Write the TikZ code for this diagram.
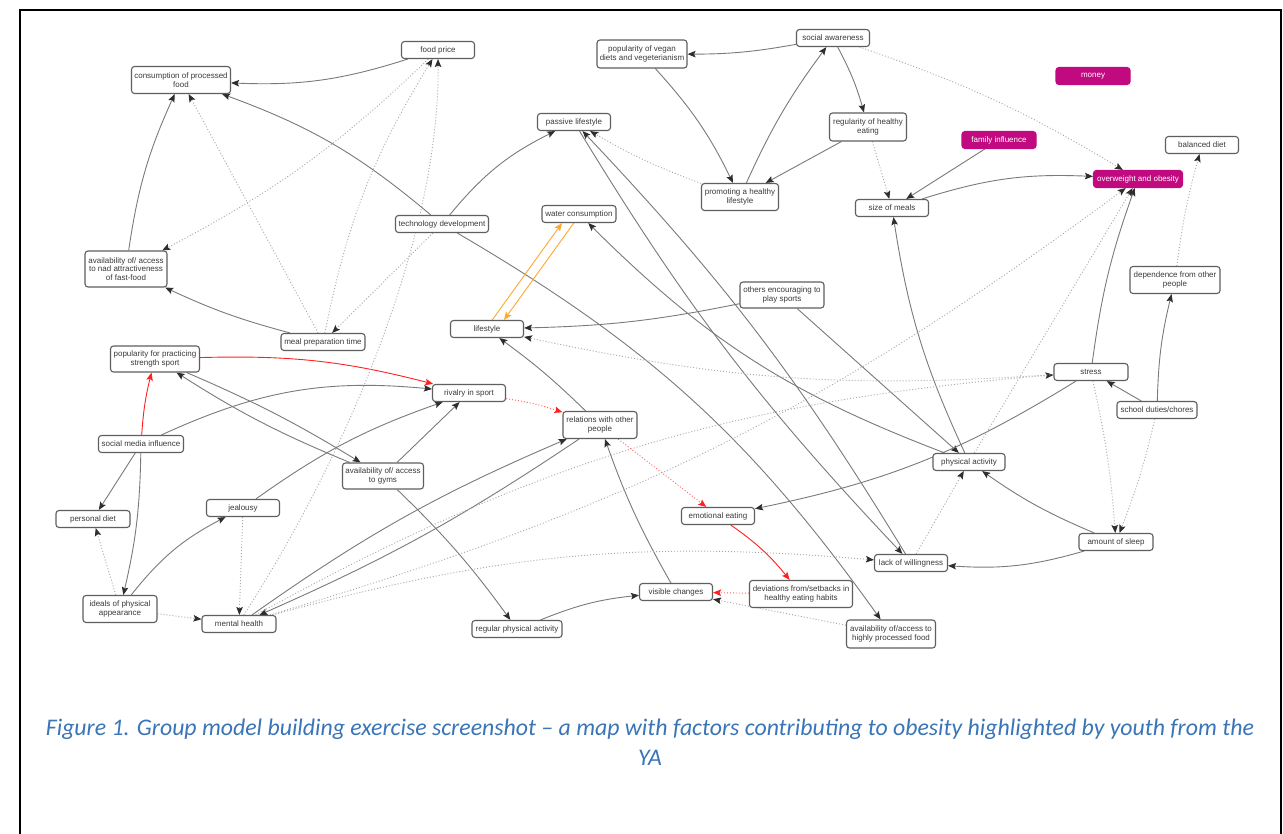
\documentclass[tikz,border=0pt]{standalone}
\usepackage{fontspec}
\setmainfont{Liberation Sans}
\newfontfamily\capfont{Carlito}
\usetikzlibrary{arrows.meta}
\definecolor{boxline}{HTML}{5F5F5F}
\definecolor{boxtext}{HTML}{3A3A3A}
\definecolor{hotpink}{HTML}{C20A80}
\definecolor{linkgray}{HTML}{7A7A7A}
\definecolor{dotgray}{HTML}{A8A8A8}
\definecolor{tipgray}{HTML}{2E2E2E}
\definecolor{linkred}{HTML}{FF2020}
\definecolor{linkorange}{HTML}{FFA82E}
\definecolor{capblue}{HTML}{3A75B8}
\pgfdeclarelayer{back}
\pgfdeclarelayer{edges}
\pgfsetlayers{back,edges,main}
\newcommand{\nodefont}{\fontsize{8}{8.7}\selectfont}
\tikzset{
  box/.style={draw=boxline, line width=1.1pt, rounded corners=3pt, fill=white,
    text=boxtext, font=\nodefont, align=center, inner sep=0pt,
    minimum width=73pt, minimum height=17pt},
  hot/.style={box, draw=hotpink, fill=hotpink, text=white},
  solidlink/.style={draw=linkgray, line width=0.9pt,
    -{Stealth[length=8pt,width=6.5pt,inset=1.5pt,color=tipgray]}},
  dotlink/.style={solidlink, draw=dotgray, dash pattern=on 1pt off 2pt},
  redlink/.style={draw=linkred, line width=0.9pt,
    -{Stealth[length=8pt,width=6.5pt,inset=1.5pt,color=linkred]}},
  reddot/.style={redlink, draw=linkred!70, dash pattern=on 1pt off 2pt},
  orangelink/.style={draw=linkorange, line width=0.9pt,
    -{Stealth[length=8pt,width=6.5pt,inset=1.5pt,color=linkorange]}},
}
\begin{document}
\begin{tikzpicture}[x=1pt,y=-1pt]
\useasboundingbox (0,0) rectangle (1283,834);
\begin{pgfonlayer}{back}
  \fill[white] (0,0) rectangle (1283,834);
\end{pgfonlayer}
% page frame
\draw[line width=1.3pt] (20,834) -- (20,10) -- (1281,10) -- (1281,834);

% ---------- factors ----------
\node[box, minimum width=99pt, minimum height=27pt] (cpf) at (181,80) {consumption of processed\\food};
\node[box] (fp) at (438,50) {food price};
\node[box, minimum width=90pt, minimum height=28pt] (vegan) at (642,54) {popularity of vegan\\diets and vegeterianism};
\node[box] (sa) at (833,38) {social awareness};
\node[hot, minimum width=74pt] (money) at (1093,76) {money};
\node[box] (pl) at (574,122) {passive lifestyle};
\node[box, minimum width=77pt, minimum height=28pt] (reg) at (868,127) {regularity of healthy\\eating};
\node[hot, minimum width=74pt] (fi) at (999,140) {family influence};
\node[box] (bd) at (1202,145) {balanced diet};
\node[box, minimum width=77pt, minimum height=27pt] (phl) at (740,197) {promoting a healthy\\lifestyle};
\node[box] (som) at (892,208) {size of meals};
\node[hot, minimum width=89pt] (ow) at (1138,179) {overweight and obesity};
\node[box, minimum width=93pt] (td) at (442,224) {technology development};
\node[box, minimum width=74pt] (wc) at (579,214) {water consumption};
\node[box, minimum width=82pt, minimum height=36pt] (ff) at (126,269) {availability of/ access\\to nad attractiveness\\of fast-food};
\node[box, minimum width=90pt, minimum height=27pt] (dep) at (1175,280) {dependence from other\\people};
\node[box, minimum width=84pt, minimum height=26pt] (oe) at (782,295) {others encouraging to\\play sports};
\node[box] (life) at (487,329) {lifestyle};
\node[box, minimum width=84pt] (mpt) at (323,342) {meal preparation time};
\node[box, minimum width=89pt, minimum height=26pt] (pss) at (155,359) {popularity for practicing\\strength sport};
\node[box, minimum width=74pt] (stress) at (1091,372) {stress};
\node[box] (rs) at (469,393) {rivalry in sport};
\node[box, minimum width=74pt, minimum height=27pt] (rel) at (600,425) {relations with other\\people};
\node[box, minimum width=80pt] (sdc) at (1157,410) {school duties/chores};
\node[box, minimum width=85pt] (smi) at (141,444) {social media influence};
\node[box, minimum width=81pt, minimum height=26pt] (gyms) at (383,476) {availability of/ access\\to gyms};
\node[box, minimum width=72pt] (pa) at (969,462) {physical activity};
\node[box] (jeal) at (243,508) {jealousy};
\node[box, minimum width=74pt] (pd) at (93,519) {personal diet};
\node[box] (ee) at (718,516) {emotional eating};
\node[box, minimum width=74pt] (sleep) at (1116,542) {amount of sleep};
\node[box] (lw) at (911,563) {lack of willingness};
\node[box, minimum width=74pt, minimum height=27pt] (ideals) at (120,609) {ideals of physical\\appearance};
\node[box] (vc) at (676,592) {visible changes};
\node[box, minimum width=103pt, minimum height=27pt] (dev) at (801,594) {deviations from/setbacks in\\healthy eating habits};
\node[box, minimum width=74pt] (mh) at (239,624) {mental health};
\node[box, minimum width=90pt] (rpa) at (517,629) {regular physical activity};
\node[box, minimum width=89pt, minimum height=28pt] (hpf) at (891,634) {availability of/access to\\highly processed food};

% ---------- connections ----------
\begin{pgfonlayer}{edges}
% solid links
\draw[solidlink] (fp) to[bend left=10] (cpf);
\draw[solidlink] (td) to[bend right=10] (cpf);
\draw[solidlink] (ff) to[bend left=8] (cpf);
\draw[solidlink] (mpt) to[bend left=5] (ff);
\draw[solidlink] (td) to[bend left=12] (pl);
\draw[solidlink] (sa) to[bend left=5] (vegan);
\draw[solidlink] (vegan) to[bend left=8] (phl);
\draw[solidlink] (phl) to[bend left=6] (sa);
\draw[solidlink] (sa) to[bend left=6] (reg);
\draw[solidlink] (reg) -- (phl);
\draw[solidlink] (fi) -- (som);
\draw[solidlink] (som) to[bend left=10] (ow);
\draw[solidlink] (pa) to[bend left=8] (som);
\draw[solidlink] (stress) to[bend left=6] (ow);
\draw[solidlink] (sdc) -- (stress);
\draw[solidlink] (sdc) to[bend left=6] (dep);
\draw[solidlink] (oe) to[bend left=5] (life);
\draw[solidlink] (oe) -- (pa);
\draw[solidlink] (pa) to[bend left=12] (wc);
\draw[solidlink] (pl) to[bend right=6] (lw);
\draw[solidlink] (lw) to[bend right=6] (pl);
\draw[solidlink] (td) to[bend left=12] (hpf);
\draw[solidlink] (stress) to[bend left=10] (ee);
\draw[solidlink] (sleep) to[bend left=10] (lw);
\draw[solidlink] (sleep) to[bend left=6] (pa);
\draw[solidlink] (rel) to[bend right=4] (life);
\draw[solidlink] (smi) to[bend left=15] (rs);
\draw[solidlink] (pss) to[bend left=4] (gyms);
\draw[solidlink] (gyms) to[bend left=5] (pss);
\draw[solidlink] (jeal) to[bend left=8] (rs);
\draw[solidlink] (gyms) -- (rs);
\draw[solidlink] (ideals) to[bend left=12] (jeal);
\draw[solidlink] (smi) -- (pd);
\draw[solidlink] (smi) to[bend left=6] (ideals);
\draw[solidlink] (gyms) to[bend left=5] (rpa);
\draw[solidlink] (rpa) to[bend left=8] (vc);
\draw[solidlink] (vc) to[bend left=5] (rel);
\draw[solidlink] (mh) to[bend left=6] (rel);
\draw[solidlink] (rel) to[bend left=5] (mh);
% red chain
\draw[redlink] (smi) to[bend left=5] (pss);
\draw[redlink] (pss) to[bend left=8] (rs);
\draw[reddot] (rs) to[bend left=5] (rel);
\draw[reddot] (rel) -- (ee);
\draw[redlink] (ee) to[bend left=8] (dev);
\draw[reddot] (dev) -- (vc);
% orange pair
\draw[orangelink] (life.60) -- (wc.208);
\draw[orangelink] (wc.240) -- (life.28);
% dotted links
\draw[dotlink] (mpt) -- (cpf);
\draw[dotlink] (mpt) to[bend left=10] (fp);
\draw[dotlink] (fp) to[bend left=8] (ff);
\draw[dotlink] (td) -- (mpt);
\draw[dotlink] (mh.62) .. controls (352,447) and (440,230) .. (fp.south);
\draw[dotlink] (jeal) -- (mh);
\draw[dotlink] (ideals) -- (pd);
\draw[dotlink] (ideals) -- (mh);
\draw[dotlink] (mh) to[bend left=10] (lw);
\draw[dotlink] (mh) to[bend left=12] (stress);
\draw[dotlink] (mh) to[bend right=10] (ow);
\draw[dotlink] (pa) -- (ow);
\draw[dotlink] (sa) to[bend left=6] (ow);
\draw[dotlink] (reg) -- (som);
\draw[dotlink] (phl) to[bend left=5] (pl);
\draw[dotlink] (stress) to[bend left=8] (life);
\draw[dotlink] (lw) -- (pa);
\draw[dotlink] (stress) to[bend left=4] (sleep);
\draw[dotlink] (sdc) to[bend left=4] (sleep);
\draw[dotlink] (dep) to[bend left=4] (bd);
\draw[dotlink] (hpf) -- (vc);
\end{pgfonlayer}

% ---------- caption ----------
\node[font=\capfont\itshape\fontsize{23.8}{30}\selectfont, text=capblue, align=center] (cap) at (650,742)
  {Figure 1. Group model building exercise screenshot – a map with factors contributing to obesity highlighted by youth from the\\YA};
\end{tikzpicture}
\end{document}
